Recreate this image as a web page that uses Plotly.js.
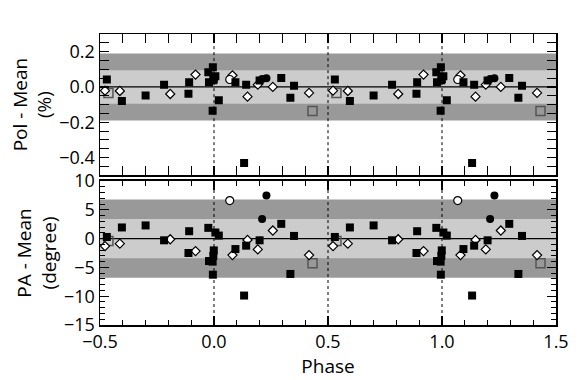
<!DOCTYPE html>
<html>
<head>
<meta charset="utf-8">
<script src="https://cdn.plot.ly/plotly-3.0.1.min.js"></script>
<style>
  html, body { margin: 0; padding: 0; background: #fff; }
  #plotArea { width: 582px; height: 380px; }
</style>
</head>
<body>
<div id="plotArea"></div>
<script>
// phases in [-0.5, 0.5); every point is drawn again one cycle later
var sqPhase = [-0.470, -0.404, -0.300, -0.219, -0.112, -0.109, -0.025, -0.022, -0.006, -0.005, -0.003, -0.001, 0.006, 0.021, 0.094, 0.132, 0.141, 0.200, 0.295, 0.335, 0.351];
var sqPol = [0.042, -0.080, -0.048, 0.013, -0.038, 0.026, 0.083, 0.026, -0.135, 0.112, 0.038, 0.045, 0.061, -0.076, 0.026, -0.431, 0.013, 0.036, 0.051, -0.061, 0.007];
var sqPA = [0.28, 1.93, 2.28, -0.30, -2.5, 1.28, 1.86, -3.9, -4.0, -6.27, -3.0, -2.05, 1.05, 0.52, -1.82, -9.89, -1.23, -0.30, 2.56, -6.14, 0.46];

var dotPhase = [0.211, 0.230];
var dotPol = [0.045, 0.049];
var dotPA = [3.39, 7.47];

var ringPhase = [0.069];
var ringPol = [0.042];
var ringPA = [6.6];

var diaPhase = [-0.478, -0.413, -0.192, -0.081, 0.081, 0.147, 0.192, 0.258, 0.417];
var diaPol = [-0.021, -0.023, -0.040, 0.070, 0.066, -0.055, 0.013, 0.000, -0.034];
var diaPA = [-1.3, -0.88, -0.12, -2.17, -2.87, -0.24, -1.88, 1.40, -2.87];

var graySqPhase = [-0.463, 0.432];
var graySqPol = [-0.034, -0.137];
var graySqPA = [-0.42, -4.28];

// 1 and 2 sigma bands
var polBands = [0.095, 0.19];
var paBands = [3.4, 6.8];
var phaseMarks = [0, 0.5, 1.0];

function twoCycles(arr, shift) {
    return arr.concat(arr.map(function(v) { return v + shift; }));
}
function twice(arr) { return arr.concat(arr); }

function series(ph, pol, pa, marker) {
    return [
        {x: twoCycles(ph, 1), y: twice(pol), xaxis: 'x', yaxis: 'y', mode: 'markers', type: 'scatter', marker: marker, hoverinfo: 'skip'},
        {x: twoCycles(ph, 1), y: twice(pa), xaxis: 'x', yaxis: 'y2', mode: 'markers', type: 'scatter', marker: marker, hoverinfo: 'skip'}
    ];
}

var traces = []
    .concat(series(graySqPhase, graySqPol, graySqPA, {symbol: 'square-open', size: 9, color: '#555', line: {width: 1.5}}))
    .concat(series(diaPhase, diaPol, diaPA, {symbol: 'diamond', size: 7, color: '#fff', line: {color: '#000', width: 1.2}}))
    .concat(series(ringPhase, ringPol, ringPA, {symbol: 'circle', size: 8, color: '#fff', line: {color: '#000', width: 1.2}}))
    .concat(series(sqPhase, sqPol, sqPA, {symbol: 'square', size: 8, color: '#000'}))
    .concat(series(dotPhase, dotPol, dotPA, {symbol: 'circle', size: 8, color: '#000'}));

var shapes = [];
function bands(yref, b) {
    shapes.push({type: 'rect', xref: 'x domain', yref: yref, x0: 0, x1: 1, y0: -b[1], y1: b[1], fillcolor: '#999999', line: {width: 0}, layer: 'below'});
    shapes.push({type: 'rect', xref: 'x domain', yref: yref, x0: 0, x1: 1, y0: -b[0], y1: b[0], fillcolor: '#cccccc', line: {width: 0}, layer: 'below'});
    shapes.push({type: 'line', xref: 'x domain', yref: yref, x0: 0, x1: 1, y0: 0, y1: 0, line: {color: '#000', width: 1.2}, layer: 'below'});
    phaseMarks.forEach(function(p) {
        shapes.push({type: 'line', xref: 'x', yref: yref + ' domain', x0: p, x1: p, y0: 0, y1: 1, line: {color: '#000', width: 1, dash: 'dot'}, layer: 'below'});
    });
}
bands('y', polBands);
bands('y2', paBands);

var txtFont = 'Open Sans, sans-serif';
var tickFont = {family: txtFont, size: 18, color: '#000'};
var titleFont = {family: txtFont, size: 19, color: '#000'};
var axBase = {
    showgrid: false, zeroline: false, showline: true, linecolor: '#000', linewidth: 1.5,
    mirror: 'allticks', ticks: 'inside', ticklen: 9, tickwidth: 1.2, tickcolor: '#000',
    tickfont: tickFont, layer: 'above traces'
};

var layout = {
    width: 582, height: 380,
    margin: {l: 100, r: 26, t: 34, b: 55},
    showlegend: false,
    paper_bgcolor: '#fff', plot_bgcolor: '#fff',
    xaxis: Object.assign({}, axBase, {
        range: [-0.5, 1.5], dtick: 0.5, tick0: 0, tickformat: '.1f', anchor: 'y2',
        minor: {dtick: 0.1, ticklen: 5, tickwidth: 1, ticks: 'inside', tickcolor: '#000'},
        title: {text: 'Phase', font: titleFont, standoff: 0}
    }),
    yaxis: Object.assign({}, axBase, {
        domain: [0.515, 1], range: [-0.5, 0.3], dtick: 0.2, tick0: 0, tickformat: '.1f', anchor: 'x',
        minor: {dtick: 0.05, ticklen: 5, tickwidth: 1, ticks: 'inside', tickcolor: '#000'},
        title: {text: 'Pol - Mean<br>(%)', font: titleFont, standoff: 2}
    }),
    yaxis2: Object.assign({}, axBase, {
        domain: [0, 0.495], range: [-15, 10], dtick: 5, tick0: 0, anchor: 'x',
        minor: {dtick: 1, ticklen: 5, tickwidth: 1, ticks: 'inside', tickcolor: '#000'},
        title: {text: 'PA - Mean<br>(degree)', font: titleFont, standoff: 2}
    }),
    shapes: shapes
};

// top panel shares the phase axis but needs its own frame
layout.xaxis3 = Object.assign({}, axBase, {
    range: [-0.5, 1.5], dtick: 0.5, tick0: 0, anchor: 'y', overlaying: 'x', showticklabels: false,
    minor: {dtick: 0.1, ticklen: 5, tickwidth: 1, ticks: 'inside', tickcolor: '#000'}
});
traces.push({x: [null], y: [null], xaxis: 'x3', yaxis: 'y', type: 'scatter', hoverinfo: 'skip'});

Plotly.newPlot('plotArea', traces, layout, {displayModeBar: false, staticPlot: true});
</script>
</body>
</html>
